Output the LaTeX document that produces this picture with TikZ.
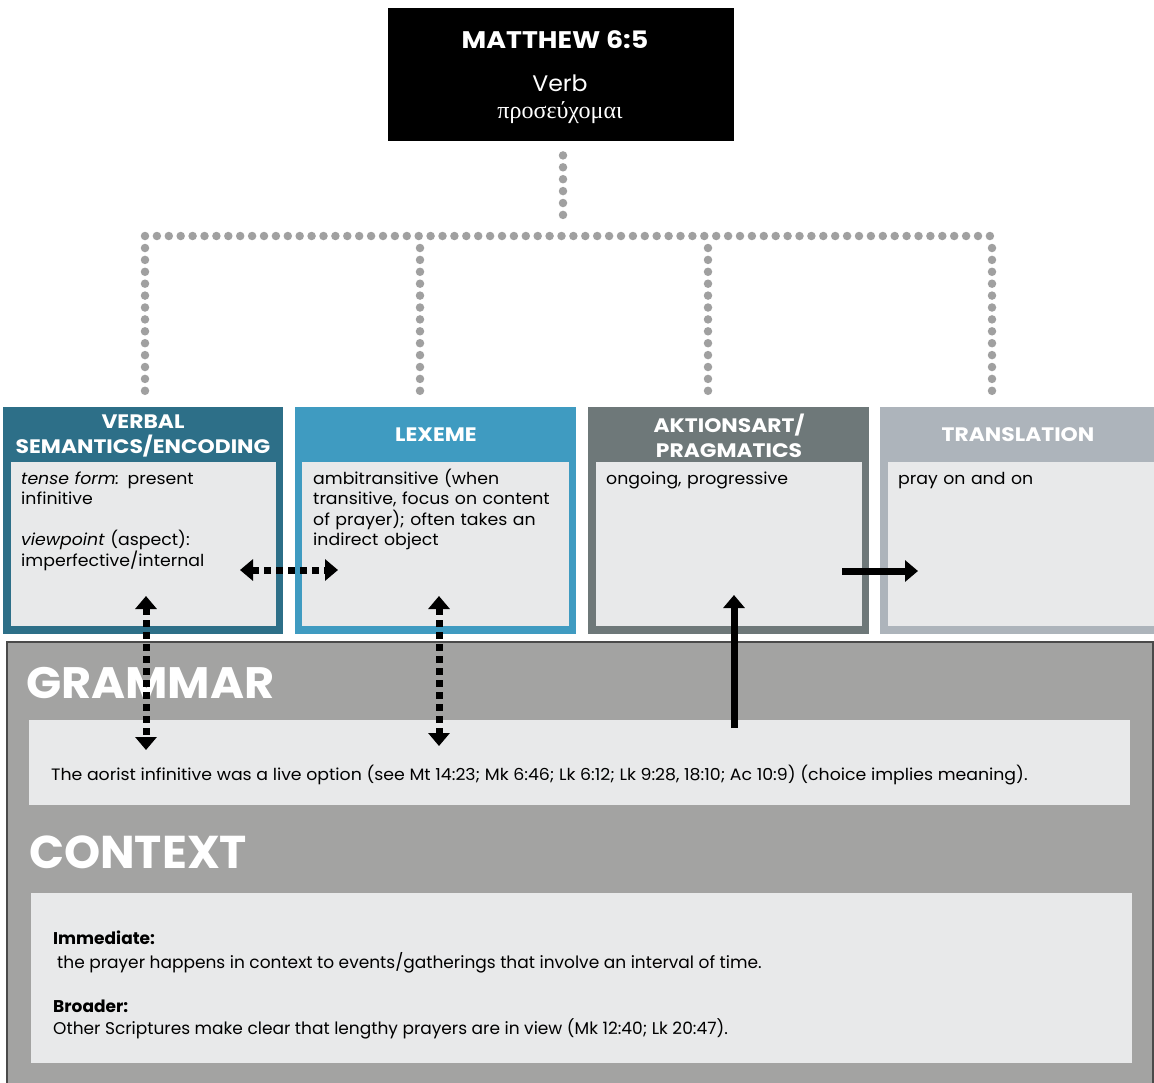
\documentclass[tikz,border=0pt]{standalone}
\usepackage{fontspec}
\setmainfont[FakeStretch=1.05]{Poppins}
\newfontfamily\greekfont{Liberation Serif}
\newfontfamily\plainfont{Poppins}
\newfontfamily\headfont[FakeStretch=1.12]{Poppins}
\usetikzlibrary{arrows.meta}

\definecolor{vsc}{HTML}{2D6F88}
\definecolor{lexc}{HTML}{3F9BC1}
\definecolor{aktc}{HTML}{6E7879}
\definecolor{trc}{HTML}{ADB4BB}
\definecolor{paper}{HTML}{E8E9EA}
\definecolor{panel}{HTML}{A3A3A2}
\definecolor{dotgray}{HTML}{A0A0A0}
\definecolor{rim}{HTML}{4A4A4A}

% fixed first-line height so every text block starts on the same baseline
\newcommand\firstline{\rule{0pt}{16pt}}

\tikzset{
  block/.style={rectangle, inner sep=0pt, anchor=north west, draw=none},
  graydots/.style={draw=dotgray, line width=8.5pt, line cap=round, dash pattern=on 0pt off 11.9pt},
  headtext/.style={white, font=\headfont\bfseries\fontsize{19.5}{25}\selectfont, align=center},
  bodytext/.style={anchor=north west, inner sep=0pt, align=left, text width=255pt,
    font=\fontsize{16.5}{20.5}\selectfont},
  bigtitle/.style={white, anchor=west, inner sep=0pt},
  dotarrow/.style={line width=7pt, dash pattern=on 7pt off 5pt, {Triangle[width=21pt,length=13pt]}-{Triangle[width=21pt,length=13pt]}},
  solidarrow/.style={line width=7pt, -{Triangle[width=21pt,length=13pt]}}
}

\begin{document}
\begin{tikzpicture}[x=1pt,y=-1pt]
\path[use as bounding box, fill=white] (0,0) rectangle (1154,1082);

% title block
\node[block, fill=black, minimum width=346pt, minimum height=133pt] (top) at (388,8) {};
\node[white, font=\headfont\bfseries\fontsize{24}{28}\selectfont] (title) at (555,40) {MATTHEW 6:5};
\node[white, font=\fontsize{22.5}{26}\selectfont] (verb) at (560,83) {Verb};
\node[white, font=\greekfont\fontsize{24}{26}\selectfont] (lemma) at (560,113) {προσεύχομαι};

% lower panel
\node[block, fill=panel, draw=rim, line width=2pt, minimum width=1146pt, minimum height=450pt] (panel) at (6,641) {};

% four category boxes
\node[block, fill=vsc, minimum width=280pt, minimum height=227pt] (vs) at (3,407) {};
\node[block, fill=paper, minimum width=265pt, minimum height=164pt] (vsin) at (11,462) {};
\node[block, fill=lexc, minimum width=281pt, minimum height=227pt] (lex) at (295,407) {};
\node[block, fill=paper, minimum width=267pt, minimum height=164pt] (lexin) at (302,462) {};
\node[block, fill=aktc, minimum width=281pt, minimum height=227pt] (akt) at (588,407) {};
\node[block, fill=paper, minimum width=266pt, minimum height=164pt] (aktin) at (596,462) {};
\node[block, fill=trc, minimum width=280pt, minimum height=227pt] (tr) at (880,407) {};
\node[block, fill=paper, minimum width=270pt, minimum height=164pt] (trin) at (888,462) {};

\node[headtext] (vsh) at (143,436) {VERBAL\\SEMANTICS/ENCODING};
\node[headtext] (lexh) at (436,435) {LEXEME};
\node[headtext] (akth) at (729,436) {AKTIONSART/\\PRAGMATICS};
\node[headtext] (trh) at (1018,435) {TRANSLATION};

\node[bodytext] (vsb) at (21,468) {\firstline\textit{tense form:} present\\infinitive\\[20.5pt]\textit{viewpoint} (aspect):\\imperfective/internal};
\node[bodytext] (lexb) at (313,468) {\firstline ambitransitive (when\\transitive, focus on content\\of prayer); often takes an\\indirect object};
\node[bodytext] (aktb) at (606,468) {\firstline ongoing, progressive};
\node[bodytext] (trb) at (898,468) {\firstline pray on and on};

% grammar section
\node[bigtitle, font=\bfseries\fontsize{44}{50}\selectfont] (gram) at (26,683) {GRAMMAR};
\node[block, fill=paper, minimum width=1101pt, minimum height=85pt] (gbox) at (29,720) {};
\node[anchor=west, inner sep=0pt, font=\fontsize{16.5}{20}\selectfont] (gtext) at (51,775)
  {The aorist infinitive was a live option (see Mt 14:23; Mk 6:46; Lk 6:12; Lk 9:28, 18:10; Ac 10:9) (choice implies meaning).};

% context section
\node[bigtitle, font=\plainfont\bfseries\fontsize{46}{50}\selectfont] (ctx) at (29,852) {CONTEXT};
\node[block, fill=paper, minimum width=1101pt, minimum height=170pt] (cbox) at (31,893) {};
\node[anchor=north west, inner sep=0pt, align=left, font=\plainfont\fontsize{17}{24}\selectfont] (imm) at (53,931)
  {\textbf{Immediate:}\\\hspace*{4pt}the prayer happens in context to events/gatherings that involve an interval of time.};
\node[anchor=north west, inner sep=0pt, align=left, font=\plainfont\fontsize{17}{21.5}\selectfont] (brd) at (53,1000)
  {\textbf{Broader:}\\Other Scriptures make clear that lengthy prayers are in view (Mk 12:40; Lk 20:47).};

% gray dotted tree
\coordinate (hub) at (563,236);
\coordinate (hl) at (145,236);
\coordinate (hr) at (992,236);
\draw[graydots] ([yshift=-14pt]top.south -| hub) -- ([yshift=10pt]hub);
\draw[graydots] (hl) -- (hr);
\foreach \bx/\bn in {145/vs, 420/lex, 708/akt, 992/tr}
  \draw[graydots] (\bx,248) -- ([yshift=9pt]\bn.north -| \bx,0);

% arrows between boxes and panel
\coordinate (vsR) at (240,570);
\coordinate (lexL) at (338,570);
\coordinate (vsB) at (146,596);
\coordinate (gA) at (146,750);
\coordinate (lexB) at (439,596);
\coordinate (gB) at (439,746);
\coordinate (gC) at (734,728);
\coordinate (aktB) at (734,595);
\coordinate (aktR) at (842,571);
\coordinate (trL) at (918,571);

\draw[dotarrow] (vsR) -- (lexL);
\draw[dotarrow] (vsB) -- (gA);
\draw[dotarrow] (lexB) -- (gB);
\draw[solidarrow] (gC) -- (aktB);
\draw[solidarrow] (aktR) -- (trL);
\end{tikzpicture}
\end{document}
